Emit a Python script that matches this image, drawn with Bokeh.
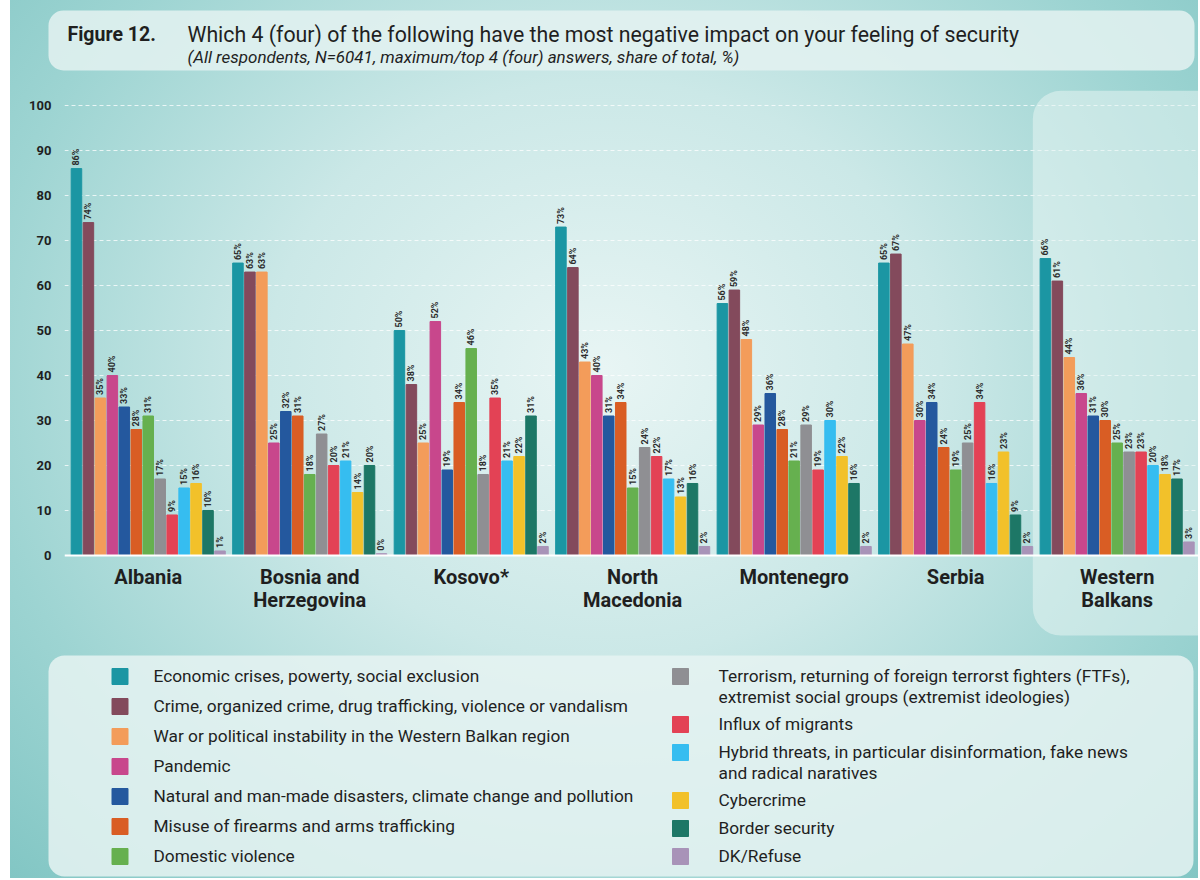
import math
from bokeh.plotting import figure
from bokeh.models import ColumnDataSource, Range1d, FixedTicker, BoxAnnotation, Span, Column
from bokeh.core.properties import value
from bokeh.embed import file_html
from bokeh.resources import INLINE

# ---------------- data ----------------
fig_label = "Figure 12."
title_text = "Which 4 (four) of the following have the most negative impact on your feeling of security"
subtitle_text = "(All respondents, N=6041, maximum/top 4 (four) answers, share of total, %)"

countries = ["Albania", "Bosnia and\nHerzegovina", "Kosovo*", "North\nMacedonia",
             "Montenegro", "Serbia", "Western\nBalkans"]

series = [
    "Economic crises, powerty, social exclusion",
    "Crime, organized crime, drug trafficking, violence or vandalism",
    "War or political instability in the Western Balkan region",
    "Pandemic",
    "Natural and man-made disasters, climate change and pollution",
    "Misuse of firearms and arms trafficking",
    "Domestic violence",
    "Terrorism, returning of foreign terrorst fighters (FTFs),\nextremist social groups (extremist ideologies)",
    "Influx of migrants",
    "Hybrid threats, in particular disinformation, fake news\nand radical naratives",
    "Cybercrime",
    "Border security",
    "DK/Refuse",
]

albania = [86, 74, 35, 40, 33, 28, 31, 17, 9, 15, 16, 10, 1]
bosnia = [65, 63, 63, 25, 32, 31, 18, 27, 20, 21, 14, 20, 0.4]
kosovo = [50, 38, 25, 52, 19, 34, 46, 18, 35, 21, 22, 31, 2]
north_macedonia = [73, 64, 43, 40, 31, 34, 15, 24, 22, 17, 13, 16, 2]
montenegro = [56, 59, 48, 29, 36, 28, 21, 29, 19, 30, 22, 16, 2]
serbia = [65, 67, 47, 30, 34, 24, 19, 25, 34, 16, 23, 9, 2]
western_balkans = [66, 61, 44, 36, 31, 30, 25, 23, 23, 20, 18, 17, 3]

y_ticks = [0, 10, 20, 30, 40, 50, 60, 70, 80, 90, 100]

# ---------------- styles ----------------
colors = ["#1b96a3", "#834a5c", "#f39c5a", "#c8478c", "#24589e", "#d95d24", "#66b04f",
          "#8f8f93", "#e34255", "#36bdf0", "#f2c12a", "#1d7766", "#a893b8"]
FONT = "Roboto"
TXT = "#1f1f1f"
W = 1188
LEFT = 54
GROUP_STEP = 13.5

def bare(p):
    p.background_fill_alpha = 0
    p.border_fill_alpha = 0
    p.outline_line_color = None
    p.xgrid.visible = False
    p.ygrid.visible = False
    return p

# ---------------- title ----------------
TH = 78
pt = figure(width=W, height=TH, x_range=Range1d(0, W), y_range=Range1d(TH, 0),
            output_backend="svg", toolbar_location=None,
            x_axis_location=None, y_axis_location=None, min_border=0, frame_align=False)
bare(pt)
pt.add_layout(BoxAnnotation(left=38, right=1184, top=10, bottom=70, border_radius=15,
                            fill_color="#e4f2f1", fill_alpha=0.85, line_alpha=0,
                            level="underlay"))
pt.text(x=[57], y=[34], text=[fig_label], text_font=value(FONT), text_font_size="19.5px",
        text_font_style="bold", text_color=TXT, text_baseline="middle", text_align="left")
pt.text(x=[177], y=[34], text=[title_text], text_font=value(FONT), text_font_size="21.3px",
        text_color=TXT, text_baseline="middle", text_align="left")
pt.text(x=[177], y=[56], text=[subtitle_text], text_font=value(FONT), text_font_size="17px",
        text_font_style="italic", text_color=TXT, text_baseline="middle", text_align="left")

# ---------------- chart ----------------
all_vals = [albania, bosnia, kosovo, north_macedonia, montenegro, serbia, western_balkans]
xs, tops, cols, labs = [], [], [], []
for g, vals in enumerate(all_vals):
    for j, v in enumerate(vals):
        xs.append(g * GROUP_STEP + j)
        tops.append(v)
        cols.append(colors[j])
        labs.append(f"{round(v)}%")
src = ColumnDataSource(dict(x=xs, top=tops, color=cols, label=labs))

CH = 570
p = figure(width=W, height=CH, x_range=Range1d(-1.0, 93.8), y_range=Range1d(-18.9, 103.8),
           output_backend="svg", toolbar_location=None, x_axis_location=None,
           min_border_left=LEFT, min_border_right=0, min_border_top=10, min_border_bottom=8,
           frame_align=False)
p.background_fill_alpha = 0
p.border_fill_alpha = 0
p.outline_line_color = None
p.xgrid.visible = False

wb_start = (len(countries) - 1) * GROUP_STEP
p.add_layout(BoxAnnotation(left=wb_start - 1.05, right=120, bottom=-17.8, top=103.3,
                           border_radius=28, fill_color="#e6f4f3", fill_alpha=0.55,
                           line_alpha=0, level="underlay"))

p.yaxis.ticker = FixedTicker(ticks=y_ticks)
p.yaxis.axis_line_color = None
p.yaxis.major_tick_line_color = None
p.yaxis.minor_tick_line_color = None
p.yaxis.major_label_text_font = FONT
p.yaxis.major_label_text_font_size = "13px"
p.yaxis.major_label_text_font_style = "bold"
p.yaxis.major_label_text_color = TXT
p.yaxis.major_label_standoff = 7

p.ygrid.ticker = FixedTicker(ticks=y_ticks[1:])
p.ygrid.grid_line_color = "white"
p.ygrid.grid_line_alpha = 0.75
p.ygrid.grid_line_dash = "4 3"
p.ygrid.grid_line_width = 1

p.add_layout(Span(location=0, dimension="width", line_color="white", line_width=2))

p.vbar(x="x", top="top", width=0.88, color="color", source=src)
p.text(x="x", y="top", text="label", source=src, angle=math.pi / 2, y_offset=-3,
       text_align="left", text_baseline="middle", text_font=value(FONT),
       text_font_size="9px", text_font_style="bold", text_color="#2b2b2b")

gsrc = ColumnDataSource(dict(x=[g * GROUP_STEP + 6 for g in range(len(countries))],
                             y=[-2.1] * len(countries), text=countries))
p.text(x="x", y="y", text="text", source=gsrc, text_align="center", text_baseline="top",
       text_font=value(FONT), text_font_size="20px", text_font_style="bold",
       text_color=TXT, text_line_height=0.95)

# ---------------- legend ----------------
LH = 230
pl = figure(width=W, height=LH, x_range=Range1d(0, W), y_range=Range1d(LH, 0),
            output_backend="svg", toolbar_location=None,
            x_axis_location=None, y_axis_location=None, min_border=0, frame_align=False)
bare(pl)
pl.add_layout(BoxAnnotation(left=38, right=1183, top=7, bottom=228, border_radius=16,
                            fill_color="#e6f3f2", fill_alpha=0.85, line_alpha=0,
                            level="underlay"))

n_left = 7
sq_x, sq_y, tx_x = [], [], []
y = 28
for i in range(n_left):
    sq_x.append(109.5)
    sq_y.append(y)
    tx_x.append(143)
    y += 30
y = 28
for i in range(n_left, len(series)):
    sq_x.append(670)
    sq_y.append(y)
    tx_x.append(708)
    y += 28 + 20 * series[i].count("\n")

lsrc = ColumnDataSource(dict(sx=sq_x, sy=sq_y, tx=tx_x, ty=[v - 10.5 for v in sq_y],
                             color=colors, text=series))
pl.rect(x="sx", y="sy", width=16, height=16, color="color", source=lsrc)
pl.text(x="tx", y="ty", text="text", source=lsrc, text_align="left", text_baseline="top",
        text_font=value(FONT), text_font_size="17.3px", text_color=TXT, text_line_height=1.05)

layout = Column(children=[pt, p, pl], width=W, spacing=0,
                styles={"margin-left": "10px",
                        "background": "radial-gradient(ellipse at 50% 42%, #e8f5f4 0%, #cbe8e7 40%, #9dd4d2 75%, #82c6c4 100%)"})

open("out.html", "w").write(file_html(layout, INLINE))
